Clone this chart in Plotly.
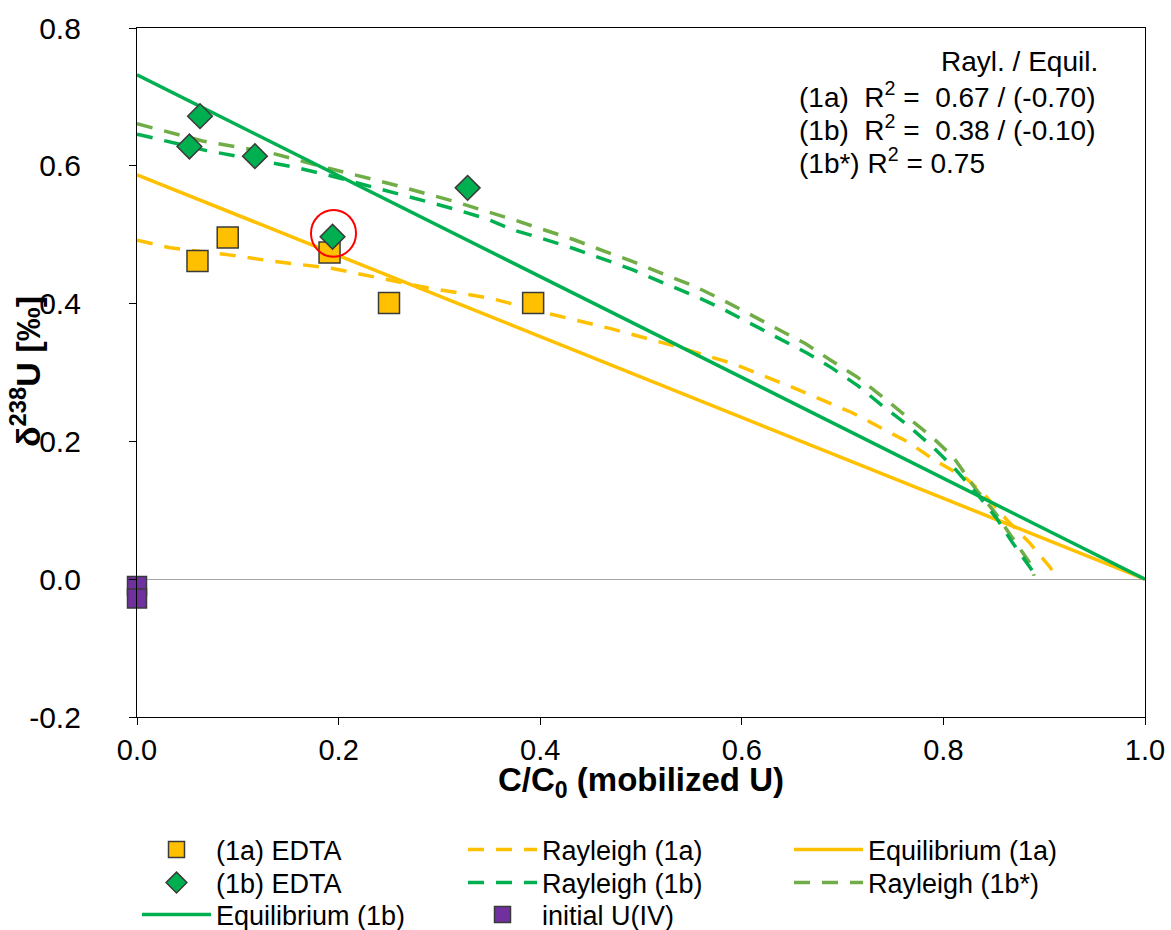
import plotly.graph_objects as go

# ---------------- data ----------------
edta_1a_x = [0.060, 0.090, 0.191, 0.250, 0.393]
edta_1a_y = [0.462, 0.496, 0.474, 0.401, 0.401]

edta_1b_x = [0.052, 0.0625, 0.117, 0.194, 0.328]
edta_1b_y = [0.628, 0.672, 0.614, 0.497, 0.568]

init_x = [0.0, 0.0]
init_y = [-0.010, -0.028]

ray_1a_x = [0.0, 0.033, 0.095, 0.132, 0.194, 0.254, 0.288, 0.317, 0.353, 0.410, 0.469,
            0.532, 0.591, 0.651, 0.709, 0.765, 0.792, 0.823, 0.843, 0.863, 0.886, 0.906, 0.913]
ray_1a_y = [0.492, 0.481, 0.470, 0.462, 0.451, 0.433, 0.423, 0.416, 0.407, 0.385, 0.364,
            0.339, 0.313, 0.278, 0.242, 0.199, 0.172, 0.146, 0.119, 0.086, 0.052, 0.017, 0.0]

ray_1b_x = [0.0, 0.036, 0.069, 0.125, 0.159, 0.191, 0.221, 0.254, 0.284, 0.313, 0.347, 0.373,
            0.403, 0.433, 0.462, 0.492, 0.522, 0.552, 0.580, 0.608, 0.636, 0.665, 0.690, 0.715,
            0.740, 0.765, 0.790, 0.811, 0.836, 0.853, 0.869, 0.888, 0.891]
ray_1b_y = [0.646, 0.633, 0.622, 0.607, 0.597, 0.586, 0.574, 0.561, 0.549, 0.538, 0.523, 0.507,
            0.494, 0.480, 0.465, 0.449, 0.430, 0.412, 0.393, 0.372, 0.351, 0.328, 0.306, 0.281,
            0.251, 0.223, 0.191, 0.161, 0.119, 0.088, 0.052, 0.013, 0.0]

ray_1bs_x = [0.0, 0.065, 0.132, 0.191, 0.251, 0.313, 0.373, 0.403, 0.433, 0.462, 0.492, 0.522,
             0.552, 0.580, 0.606, 0.635, 0.663, 0.689, 0.715, 0.740, 0.765, 0.789, 0.810, 0.831,
             0.851, 0.869, 0.886, 0.890]
ray_1bs_y = [0.661, 0.636, 0.619, 0.596, 0.574, 0.549, 0.522, 0.507, 0.493, 0.477, 0.461, 0.443,
             0.426, 0.406, 0.386, 0.364, 0.342, 0.317, 0.293, 0.264, 0.235, 0.206, 0.177, 0.133,
             0.097, 0.059, 0.023, 0.005]

eq_1a_x = [0.0, 1.0]
eq_1a_y = [0.587, 0.0]
eq_1b_x = [0.0, 1.0]
eq_1b_y = [0.732, 0.0]

x_ticks = [0.0, 0.2, 0.4, 0.6, 0.8, 1.0]
y_ticks = [-0.2, 0.0, 0.2, 0.4, 0.6, 0.8]

# ---------------- style ----------------
YEL = "#FFC000"
GRN = "#00B050"
OLV = "#70AD47"
PUR = "#7030A0"
EDGE = "#3a3a3a"
FONT = "Liberation Sans, Arial, sans-serif"
DASH = "16px,12px"
LW = 3.5

fig = go.Figure()

# lines first (drawn beneath markers); each legend row is its own legend
fig.add_trace(go.Scatter(x=ray_1a_x, y=ray_1a_y, mode="lines", name="Rayleigh (1a)",
                         line=dict(color=YEL, width=LW, dash=DASH),
                         legend="legend", legendrank=2))
fig.add_trace(go.Scatter(x=eq_1a_x, y=eq_1a_y, mode="lines", name="Equilibrium (1a)",
                         line=dict(color=YEL, width=LW), legend="legend", legendrank=3))
fig.add_trace(go.Scatter(x=ray_1bs_x, y=ray_1bs_y, mode="lines", name="Rayleigh (1b*)",
                         line=dict(color=OLV, width=LW, dash=DASH),
                         legend="legend2", legendrank=3))
fig.add_trace(go.Scatter(x=ray_1b_x, y=ray_1b_y, mode="lines", name="Rayleigh (1b)",
                         line=dict(color=GRN, width=LW, dash=DASH),
                         legend="legend2", legendrank=2))
fig.add_trace(go.Scatter(x=eq_1b_x, y=eq_1b_y, mode="lines", name="Equilibrium (1b)",
                         line=dict(color=GRN, width=LW), legend="legend3", legendrank=1))

# markers
fig.add_trace(go.Scatter(x=edta_1a_x, y=edta_1a_y, mode="markers", name="(1a) EDTA",
                         marker=dict(symbol="square", size=21, color=YEL,
                                     line=dict(color=EDGE, width=1.5)),
                         legend="legend", legendrank=1))
fig.add_trace(go.Scatter(x=edta_1b_x, y=edta_1b_y, mode="markers", name="(1b) EDTA",
                         marker=dict(symbol="diamond", size=19, color=GRN,
                                     line=dict(color=EDGE, width=1.5)),
                         legend="legend2", legendrank=1))
fig.add_trace(go.Scatter(x=init_x, y=init_y, mode="markers", name="initial U(IV)",
                         marker=dict(symbol="square", size=19, color=PUR,
                                     line=dict(color=EDGE, width=1.5)),
                         legend="legend3", legendrank=2, cliponaxis=False))

# red circle highlighting
fig.add_shape(type="circle", xref="x", yref="y", x0=0.1726, x1=0.2173, y0=0.468, y1=0.536,
              line=dict(color="#FF0000", width=2))

# R^2 annotations
ann_font = dict(family=FONT, size=28, color="#000000")
fig.add_annotation(x=(939 - 137) / 1008, y=0.752, xref="x", yref="y", text="Rayl. / Equil.",
                   showarrow=False, xanchor="left", yanchor="middle", font=ann_font)
fig.add_annotation(x=(797 - 137) / 1008, y=0.703, xref="x", yref="y",
                   text="(1a)  R<sup>2</sup> =  0.67 / (-0.70)",
                   showarrow=False, xanchor="left", yanchor="middle", font=ann_font)
fig.add_annotation(x=(797 - 137) / 1008, y=0.655, xref="x", yref="y",
                   text="(1b)  R<sup>2</sup> =  0.38 / (-0.10)",
                   showarrow=False, xanchor="left", yanchor="middle", font=ann_font)
fig.add_annotation(x=(797 - 137) / 1008, y=0.607, xref="x", yref="y",
                   text="(1b*) R<sup>2</sup> = 0.75",
                   showarrow=False, xanchor="left", yanchor="middle", font=ann_font)

# axis titles as annotations
fig.add_annotation(x=0.5, y=-(782 - 717) / 689, xref="paper", yref="paper",
                   text="<b>C/C<sub>0</sub> (mobilized U)</b>", showarrow=False,
                   xanchor="center", yanchor="middle", font=dict(family=FONT, size=33))
fig.add_annotation(x=-(137 - 25) / 1008, y=(717 - 372) / 689, xref="paper", yref="paper",
                   text="<b>δ<sup>238</sup>U [‰]</b>", showarrow=False, textangle=-90,
                   xanchor="center", yanchor="middle", font=dict(family=FONT, size=34))


def row_legend(center_px):
    return dict(orientation="h", x=0.0, y=-(center_px - 717) / 689,
                xanchor="left", yanchor="middle",
                entrywidth=242, entrywidthmode="pixels", itemwidth=69,
                font=dict(family=FONT, size=27, color="#000000"),
                tracegroupgap=0, bgcolor="rgba(0,0,0,0)")


fig.update_layout(
    width=1171, height=930,
    margin=dict(l=137, r=26, t=28, b=213, autoexpand=False),
    plot_bgcolor="white", paper_bgcolor="white",
    font=dict(family=FONT, size=27, color="#000000"),
    showlegend=True,
    legend=row_legend(850),
    legend2=row_legend(883),
    legend3=row_legend(915),
    xaxis=dict(range=[0, 1.0], tickvals=x_ticks, ticktext=[f"{v:.1f}" for v in x_ticks],
               showgrid=False, zeroline=False, showline=True, linecolor="#000000",
               linewidth=1.3, mirror=True, ticks="outside", ticklen=7, tickcolor="#000000",
               tickfont=dict(family=FONT, size=29), ticklabelstandoff=0),
    yaxis=dict(range=[-0.2, 0.8], tickvals=y_ticks, ticktext=[f"{v:.1f}" for v in y_ticks],
               showgrid=False, zeroline=True, zerolinecolor="#A6A6A6", zerolinewidth=1.3,
               showline=True, linecolor="#000000", linewidth=1.3, mirror=True,
               ticks="outside", ticklen=7, tickcolor="#000000",
               tickfont=dict(family=FONT, size=30), ticklabelstandoff=42),
)

fig.write_html("out.html")
